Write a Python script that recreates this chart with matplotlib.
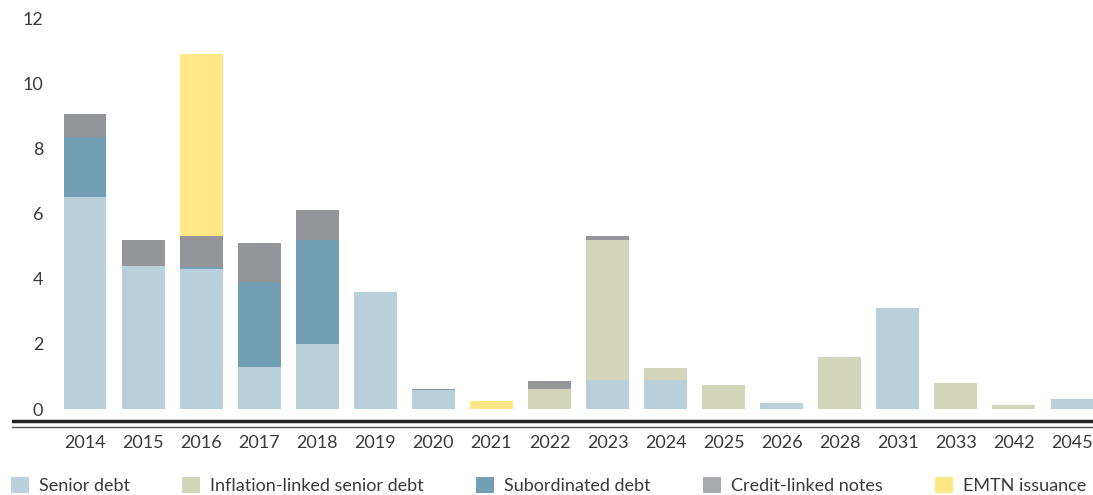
import numpy as np
import matplotlib
matplotlib.use("Agg")
import matplotlib.pyplot as plt
from matplotlib.patches import Patch

# data (EUR bn, by maturity year)
years = ["2014", "2015", "2016", "2017", "2018", "2019", "2020", "2021", "2022",
         "2023", "2024", "2025", "2026", "2028", "2031", "2033", "2042", "2045"]
senior = [6.5, 4.4, 4.3, 1.3, 2.0, 3.6, 0.6, 0, 0, 0.9, 0.9, 0, 0.2, 0, 3.1, 0, 0, 0.3]
inflation = [0, 0, 0, 0, 0, 0, 0, 0, 0.62, 4.3, 0.35, 0.75, 0, 1.6, 0, 0.8, 0.13, 0]
subordinated = [1.85, 0, 0.05, 2.6, 3.2, 0, 0, 0, 0, 0, 0, 0, 0, 0, 0, 0, 0, 0]
credit_linked = [0.7, 0.8, 0.95, 1.2, 0.9, 0, 0.03, 0, 0.25, 0.12, 0, 0, 0, 0, 0, 0, 0, 0]
emtn = [0, 0, 5.6, 0, 0, 0, 0, 0.25, 0, 0, 0, 0, 0, 0, 0, 0, 0, 0]

series = [
    ("Senior debt", senior, "#b9cfdc"),
    ("Inflation-linked senior debt", inflation, "#d2d5b9"),
    ("Subordinated debt", subordinated, "#739fb4"),
    ("Credit-linked notes", credit_linked, "#939599"),
    ("EMTN issuance", emtn, "#fee784"),
]

plt.rcParams["font.family"] = ["Lato", "DejaVu Sans"]
text_color = "#3a3a3a"

W, H = 1093, 495
fig = plt.figure(figsize=(W / 100, H / 100), dpi=100)
ax = fig.add_axes([12 / W, (H - 427) / H, (W - 12) / W, (427 - 10) / H])

x = np.arange(len(years))
bottom = np.zeros(len(years))
for name, vals, color in series:
    vals = np.array(vals)
    ax.bar(x, vals, width=0.74, bottom=bottom, color=color, linewidth=0)
    bottom += vals

ax.set_xlim((12 - 85) / 58.06, (W - 85) / 58.06)
ax.set_ylim(-0.55, 12.25)

ax.set_yticks([0, 2, 4, 6, 8, 10, 12])
ax.set_xticks(x)
ax.set_xticklabels(years)
ax.tick_params(axis="y", length=0, pad=-22.5, labelsize=13, labelcolor=text_color)
ax.tick_params(axis="x", length=0, pad=5.5, labelsize=13, labelcolor=text_color)
for lbl in ax.get_yticklabels():
    lbl.set_horizontalalignment("right")

for side in ["top", "right", "left"]:
    ax.spines[side].set_visible(False)
ax.spines["bottom"].set_color("#555555")
ax.spines["bottom"].set_linewidth(1.0)
ax.axhline(-0.37, color="#222222", linewidth=2.5)

handles = [Patch(facecolor=c if n != "Credit-linked notes" else "#a9aaae", label=n)
           for n, _, c in series]
fig.legend(handles=handles, loc="lower left", bbox_to_anchor=(0.0, -0.02), ncol=5,
           frameon=False, fontsize=13, labelcolor=text_color,
           handlelength=1.0, handleheight=1.0, handletextpad=0.55,
           columnspacing=2.9, borderaxespad=0.2)

fig.savefig("out.png", dpi=100)
